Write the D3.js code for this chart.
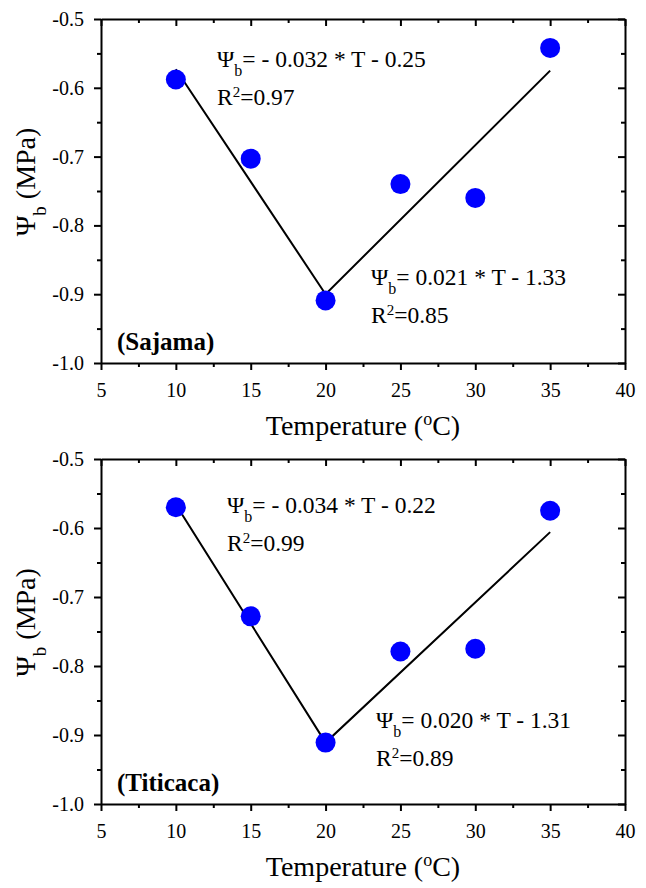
<!DOCTYPE html>
<html lang="en">
<head>
    <meta charset="UTF-8">
    <title>Psi b vs temperature</title>
    <script src="https://d3js.org/d3.v7.min.js"></script>
    <style>
        body { margin: 0; background: #fff; }
        svg { display: block; }
        .axis path, .axis line { stroke: #000; stroke-width: 2; }
        .fit { fill: none; stroke: #000; stroke-width: 2; }
        .dot { fill: #0000ff; }
    </style>
</head>
<body>
<script>
    const width = 646;
    const height = 888;
    const serif = "'Liberation Serif', 'Times New Roman', Times, 'DejaVu Serif', serif";

    // data
    const temps = [10, 15, 20, 25, 30, 35];
    const sajamaPsi = [-0.588, -0.703, -0.909, -0.740, -0.760, -0.542];
    const titicacaPsi = [-0.570, -0.728, -0.911, -0.779, -0.775, -0.575];
    // regression segments (T, psi) as drawn
    const sajamaFit = [[10, -0.573], [20, -0.900], [35, -0.575]];
    const titicacaFit = [[10, -0.566], [20, -0.911], [35, -0.606]];

    const xTicks = [5, 10, 15, 20, 25, 30, 35, 40];
    const xMinor = [7.5, 12.5, 17.5, 22.5, 27.5, 32.5, 37.5];
    const yTicks = [-0.5, -0.6, -0.7, -0.8, -0.9, -1.0];
    const yMinor = [-0.55, -0.65, -0.75, -0.85, -0.95];

    const panels = [
        {name: "(Sajama)", psi: sajamaPsi, fit: sajamaFit, top: 19, bottom: 363,
         eq1: ["- 0.032 * T - 0.25", "0.97"], eq1Pos: [217, 67],
         eq2: ["0.021 * T - 1.33", "0.85"], eq2Pos: [371, 285]},
        {name: "(Titicaca)", psi: titicacaPsi, fit: titicacaFit, top: 459, bottom: 804,
         eq1: ["- 0.034 * T - 0.22", "0.99"], eq1Pos: [227, 513],
         eq2: ["0.020 * T - 1.31", "0.89"], eq2Pos: [376, 728]}
    ];

    const left = 101, right = 625;

    const svg = d3.select("body").append("svg")
        .attr("width", width).attr("height", height)
        .style("font-family", serif);

    const x = d3.scaleLinear().domain([5, 40]).range([left, right]);

    function equation(g, pos, eq) {
        const t1 = g.append("text").attr("x", pos[0]).attr("y", pos[1]).style("font-size", "23.5px");
        t1.append("tspan").text("\u03A8");
        t1.append("tspan").attr("baseline-shift", "sub").style("font-size", "16px").text("b");
        t1.append("tspan").text("= " + eq[0]);
        const t2 = g.append("text").attr("x", pos[0]).attr("y", pos[1] + 38).style("font-size", "23.5px");
        t2.append("tspan").text("R");
        t2.append("tspan").attr("baseline-shift", "super").style("font-size", "15px").text("2");
        t2.append("tspan").text("=" + eq[1]);
    }

    function axis(g, gen, tx, ty) {
        const a = g.append("g").attr("class", "axis")
            .attr("transform", `translate(${tx},${ty})`)
            .call(gen);
        a.attr("font-family", null).attr("font-size", null);
        a.selectAll("text").style("font-family", serif).style("font-size", "20px")
            .text(function() { return d3.select(this).text().replace("\u2212", "-"); });
        return a;
    }

    panels.forEach(p => {
        const y = d3.scaleLinear().domain([-1.0, -0.5]).range([p.bottom, p.top]);
        const g = svg.append("g");

        // minor ticks
        axis(g, d3.axisBottom(x).tickValues(xMinor).tickSize(4).tickFormat(""), 0, p.bottom).select(".domain").remove();
        axis(g, d3.axisBottom(x).tickValues(xMinor).tickSize(4).tickFormat(""), 0, p.top).select(".domain").remove();
        axis(g, d3.axisLeft(y).tickValues(yMinor).tickSize(4).tickFormat(""), left, 0).select(".domain").remove();
        axis(g, d3.axisLeft(y).tickValues(yMinor).tickSize(4).tickFormat(""), right, 0).select(".domain").remove();

        // major axes
        axis(g, d3.axisBottom(x).tickValues(xTicks).tickSize(7).tickSizeOuter(0).tickPadding(13).tickFormat(d3.format("d")), 0, p.bottom);
        axis(g, d3.axisBottom(x).tickValues(xTicks).tickSize(7).tickSizeOuter(0).tickFormat(""), 0, p.top);
        axis(g, d3.axisLeft(y).tickValues(yTicks).tickSize(7).tickSizeOuter(0).tickPadding(10).tickFormat(d3.format(".1f")), left, 0);
        axis(g, d3.axisLeft(y).tickValues(yTicks).tickSize(7).tickSizeOuter(0).tickFormat(""), right, 0);

        // fit lines
        g.append("path").attr("class", "fit")
            .attr("d", d3.line().x(d => x(d[0])).y(d => y(d[1]))(p.fit));

        // points
        g.selectAll("circle.dot").data(temps.map((t, i) => [t, p.psi[i]])).enter()
            .append("circle").attr("class", "dot")
            .attr("cx", d => x(d[0])).attr("cy", d => y(d[1])).attr("r", 10);

        equation(g, p.eq1Pos, p.eq1);
        equation(g, p.eq2Pos, p.eq2);

        g.append("text").attr("x", 117).attr("y", p.bottom - 13)
            .style("font-size", "25px").style("font-weight", "bold").text(p.name);

        // x title
        const xt = g.append("text").attr("x", (left + right) / 2).attr("y", p.bottom + 72)
            .attr("text-anchor", "middle").style("font-size", "28px");
        xt.append("tspan").text("Temperature (");
        xt.append("tspan").attr("baseline-shift", "super").style("font-size", "18px").text("o");
        xt.append("tspan").text("C)");

        // y title
        const yt = g.append("text")
            .attr("transform", `translate(35,${(p.top + p.bottom) / 2 - 9}) rotate(-90)`)
            .attr("text-anchor", "middle").style("font-size", "28px");
        yt.append("tspan").text("\u03A8");
        yt.append("tspan").attr("baseline-shift", "sub").style("font-size", "19px").text("b");
        yt.append("tspan").text(" (MPa)");
    });
</script>
</body>
</html>
